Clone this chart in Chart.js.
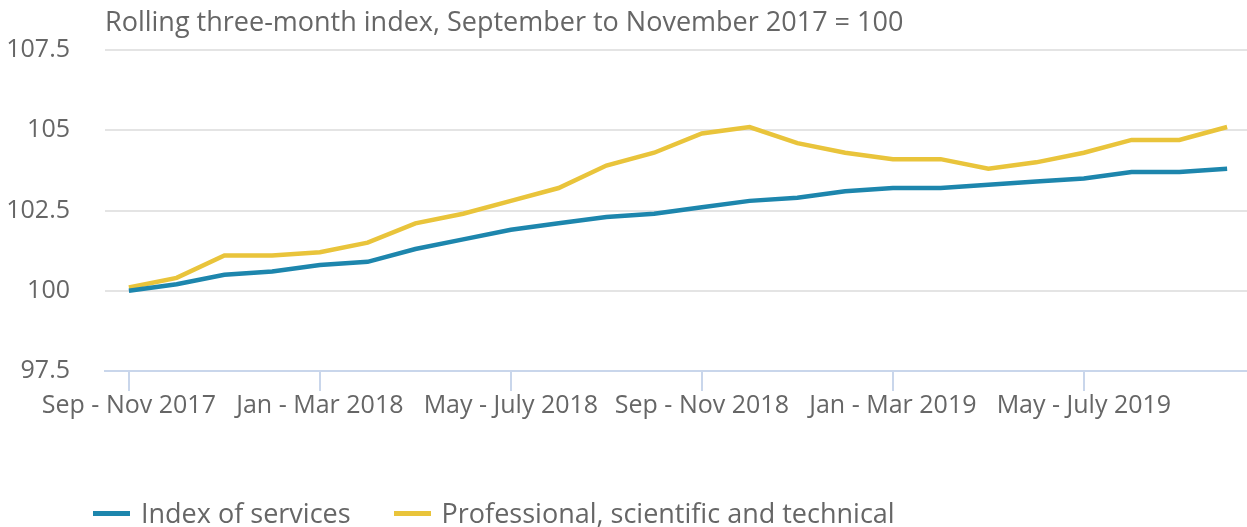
<!DOCTYPE html>
<html>
<head>
<meta charset="utf-8">
<script src="https://cdn.jsdelivr.net/npm/chart.js@4.4.1/dist/chart.umd.min.js"></script>
<style>
    html, body { margin: 0; padding: 0; background: #fff; overflow: hidden; }
    #wrap { position: relative; width: 1251px; height: 527px; }
    #legend { position: absolute; left: 93px; top: 495px; display: flex; align-items: center;
              font-family: 'Open Sans', sans-serif; font-size: 27px; color: #666; line-height: 36px; }
    .item { display: flex; align-items: center; margin-right: 43px; }
    .swatch { width: 37px; height: 5px; margin-right: 11px; }
</style>
</head>
<body>
<div id="wrap">
    <canvas id="chart" width="1251" height="527"></canvas>
    <div id="legend"></div>
</div>
<script>
const periods = [
    'Sep - Nov 2017', 'Oct - Dec 2017', 'Nov 2017 - Jan 2018', 'Dec 2017 - Feb 2018',
    'Jan - Mar 2018', 'Feb - Apr 2018', 'Mar - May 2018', 'Apr - June 2018',
    'May - July 2018', 'June - Aug 2018', 'July - Sep 2018', 'Aug - Oct 2018',
    'Sep - Nov 2018', 'Oct - Dec 2018', 'Nov 2018 - Jan 2019', 'Dec 2018 - Feb 2019',
    'Jan - Mar 2019', 'Feb - Apr 2019', 'Mar - May 2019', 'Apr - June 2019',
    'May - July 2019', 'June - Aug 2019', 'July - Sep 2019', 'Aug - Oct 2019'
];
const services = [
    100.0, 100.2, 100.5, 100.6, 100.8, 100.9, 101.3, 101.6,
    101.9, 102.1, 102.3, 102.4, 102.6, 102.8, 102.9, 103.1,
    103.2, 103.2, 103.3, 103.4, 103.5, 103.7, 103.7, 103.8
];
const professional = [
    100.1, 100.4, 101.1, 101.1, 101.2, 101.5, 102.1, 102.4,
    102.8, 103.2, 103.9, 104.3, 104.9, 105.1, 104.6, 104.3,
    104.1, 104.1, 103.8, 104.0, 104.3, 104.7, 104.7, 105.1
];
const yTicks = [97.5, 100, 102.5, 105, 107.5];
const chartTitle = 'Rolling three-month index, September to November 2017 = 100';

const colors = {
    services     : '#1d86ad',
    professional : '#e9c43b',
    text         : '#666666',
    grid         : '#e4e4e4',
    axis         : '#c9d6eb'
};
const font = 'Open Sans';

// subtitle drawn at the left edge of the plot area
const titlePlugin = {
    id: 'topTitle',
    afterDraw(chart) {
        const ctx = chart.ctx;
        ctx.save();
        ctx.font = '27px "' + font + '"';
        ctx.fillStyle = colors.text;
        ctx.textBaseline = 'middle';
        ctx.textAlign = 'left';
        ctx.fillText(chartTitle, chart.chartArea.left, 23);
        ctx.restore();
    }
};

const ctx = document.getElementById('chart').getContext('2d');
const chart = new Chart(ctx, {
    type: 'line',
    data: {
        labels: periods,
        datasets: [{
            label: 'Index of services',
            data: services,
            borderColor: colors.services,
            backgroundColor: colors.services,
            borderWidth: 4.5,
            pointRadius: 0,
            tension: 0,
            fill: false
        },
        {
            label: 'Professional, scientific and technical',
            data: professional,
            borderColor: colors.professional,
            backgroundColor: colors.professional,
            borderWidth: 4.5,
            pointRadius: 0,
            tension: 0,
            fill: false
        }]
    },
    options: {
        responsive: false,
        animation: false,
        layout: {
            padding: { top: 43, bottom: 96, left: 0, right: 0 }
        },
        plugins: {
            legend: { display: false },
            title: { display: false },
            tooltip: { enabled: false }
        },
        scales: {
            x: {
                offset: true,
                grid: {
                    offset: false,
                    drawOnChartArea: false,
                    drawTicks: true,
                    tickLength: 20,
                    lineWidth: 2,
                    color: (c) => c.index % 4 === 0 ? colors.axis : 'transparent'
                },
                border: { color: colors.axis, width: 2 },
                ticks: {
                    autoSkip: false,
                    maxRotation: 0,
                    padding: 0,
                    color: colors.text,
                    font: { family: font, size: 25 },
                    callback: function(value, index) {
                        return index % 4 === 0 ? periods[index] : '';
                    }
                },
                afterFit: (scale) => { scale.height = 60; }
            },
            y: {
                min: yTicks[0],
                max: yTicks[yTicks.length - 1],
                afterBuildTicks: (scale) => { scale.ticks = yTicks.map(v => ({ value: v })); },
                grid: {
                    color: colors.grid,
                    lineWidth: 2,
                    drawTicks: false
                },
                border: { display: false },
                ticks: {
                    padding: 35,
                    color: colors.text,
                    font: { family: font, size: 25 },
                    callback: (v) => String(v)
                },
                afterFit: (scale) => { scale.width = 105; }
            }
        }
    },
    plugins: [titlePlugin]
});

// legend below the chart
const legendBox = document.getElementById('legend');
chart.data.datasets.forEach(ds => {
    const item = document.createElement('div');
    item.className = 'item';
    const sw = document.createElement('span');
    sw.className = 'swatch';
    sw.style.background = ds.borderColor;
    const txt = document.createElement('span');
    txt.textContent = ds.label;
    item.appendChild(sw);
    item.appendChild(txt);
    legendBox.appendChild(item);
});
</script>
</body>
</html>
